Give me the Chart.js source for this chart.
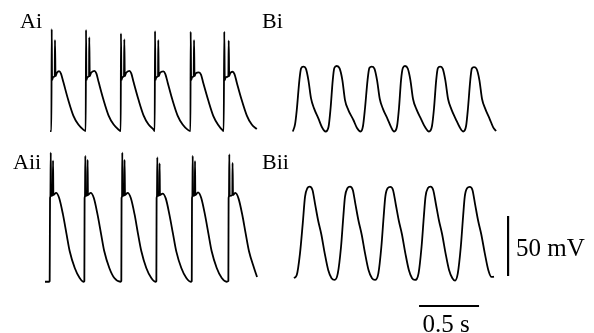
<!DOCTYPE html>
<html>
<head>
<meta charset="utf-8">
<script src="https://cdn.jsdelivr.net/npm/chart.js@4.4.1/dist/chart.umd.min.js"></script>
<style>
  html, body { margin: 0; padding: 0; background: #fff; }
  canvas { display: block; }
</style>
</head>
<body>
<canvas id="traces" width="594" height="333"></canvas>
<script>
// Membrane potential recordings, time in ms, voltage in mV
const aiTime = [42, 53, 56, 59, 68, 81, 83, 88, 98, 117, 133, 153, 194, 236, 278, 319, 339,
  342, 345, 354, 367, 369, 373, 383, 411, 428, 447, 488, 530, 572, 613, 631,
  633, 637, 646, 658, 661, 665, 675, 703, 719, 738, 780, 822, 863, 905, 914,
  917, 920, 929, 942, 944, 948, 958, 986, 1003, 1022, 1063, 1105, 1147, 1188, 1212,
  1214, 1218, 1227, 1239, 1242, 1246, 1256, 1283, 1300, 1319, 1361, 1403, 1444, 1481, 1489,
  1494, 1498, 1507, 1528, 1531, 1535, 1543, 1563, 1579, 1598, 1640, 1682, 1723, 1765];
const aiVolt = [-60, -60, 25, -17.5, -15, -14.2, 15.8, -14.2, -11.7, -10, -12.1, -19.2, -34.2, -47.1, -54.6, -58.8, -60,
  24.2, -17.5, -15, -14.2, 18.1, -14.2, -11.7, -9.8, -12, -19.2, -34.2, -47.1, -54.6, -58.8, -60,
  21.4, -17.5, -15, -14.2, 16.4, -14.2, -11.7, -9.8, -12, -19.2, -34.2, -47.1, -54.6, -58.8, -60,
  23.3, -17.5, -15, -14.2, 15.8, -14.2, -11.7, -10.3, -12.5, -19.5, -34.4, -47.1, -54.6, -58.8, -60,
  22.8, -17.5, -15, -14.2, 15.8, -14.2, -12, -11.1, -13, -20, -34.6, -47.5, -55, -59.5, -60,
  22.8, -17.5, -15, -14.2, 15.3, -14.2, -11.9, -10.6, -12.5, -19.5, -34.4, -47.1, -54.6, -58.3];

const aiiTime = [0, 31, 39, 42, 45, 48, 51, 64, 67, 70, 92, 118, 150, 178, 206, 248, 289, 319,
  328, 330, 333, 336, 339, 353, 355, 358, 380, 407, 438, 466, 494, 536, 578, 629,
  636, 638, 642, 644, 648, 661, 663, 667, 688, 715, 747, 774, 803, 844, 886, 919,
  928, 930, 933, 936, 939, 953, 955, 958, 980, 1007, 1038, 1066, 1094, 1136, 1178, 1214,
  1223, 1225, 1228, 1231, 1234, 1248, 1250, 1253, 1275, 1302, 1333, 1361, 1389, 1431, 1473, 1513,
  1528, 1530, 1533, 1536, 1539, 1561, 1563, 1567, 1586, 1613, 1644, 1672, 1700, 1742, 1767];
const aiiVolt = [-59.8, -59.8, -59.2, 10, 11.3, 47.8, 11.7, 12.5, 41.1, 12.5, 14.2, 10, -3.9, -19.2, -34.4, -48.3, -56.7, -59.8,
  -59.2, 10, 11.3, 45, 11.7, 12.5, 41.7, 12.5, 14.2, 10, -3.9, -19.2, -34.4, -48.3, -56.7, -59.8,
  -59.2, 10, 11.3, 47.8, 11.7, 12.5, 41.7, 12.5, 14.2, 10, -3.9, -19.2, -34.4, -48.3, -56.7, -59.8,
  -59.2, 10, 11.3, 43.9, 11.7, 12.5, 38.9, 12.5, 13.7, 9.5, -4.5, -19.5, -34.5, -48.3, -56.7, -59.8,
  -59.2, 10, 11.3, 45, 11.7, 12.5, 40.8, 12.5, 14.7, 10, -3.9, -19.2, -34.4, -48.3, -56.7, -59.8,
  -59.2, 10, 11.3, 46.3, 11.7, 12.5, 39.2, 12.5, 14.2, 9.5, -4, -19.5, -34.4, -48.3, -55.8];

const biTime = [23, 42, 56, 78, 92, 111, 131, 153, 175, 200, 236, 264, 296,
  321, 338, 356, 369, 389, 413, 436, 458, 486, 528, 558, 588,
  608, 625, 646, 661, 681, 703, 725, 748, 775, 813, 842, 867,
  892, 908, 925, 940, 958, 981, 1003, 1025, 1053, 1092, 1125, 1158,
  1183, 1200, 1218, 1232, 1250, 1272, 1294, 1317, 1344, 1381, 1413, 1442,
  1467, 1483, 1502, 1515, 1533, 1555, 1578, 1600, 1628, 1664, 1692, 1717];
const biVolt = [-60.4, -54.2, -42.5, -17.5, -7.8, -6.3, -7.8, -17.5, -32.8, -41.1, -49.4, -56.4, -60.4,
  -56.4, -40.8, -17.5, -7.5, -5.8, -7.8, -17.5, -34.2, -42.5, -50.8, -57.5, -60.4,
  -55.8, -40.8, -17.5, -7.5, -6.3, -7.9, -17.5, -33.3, -41.7, -50, -56.7, -60.4,
  -55.8, -40.8, -17.5, -7.5, -5.8, -7.9, -17.5, -33.3, -41.7, -50, -56.7, -60.4,
  -55.8, -40.8, -17.5, -7.5, -6.3, -7.9, -17.5, -33.3, -41.7, -50, -56.7, -60.4,
  -55.8, -40.8, -17.5, -7.9, -6.7, -8.3, -17.5, -33.3, -41.7, -50, -56.7, -60];

const biiTime = [33, 56, 83, 106, 125, 144, 164, 187, 210, 235, 260, 289, 318, 346, 371,
  398, 425, 444, 458, 478, 500, 523, 546, 571, 596, 625, 654, 683, 708,
  736, 761, 780, 794, 813, 836, 858, 882, 907, 932, 961, 990, 1017, 1040,
  1071, 1096, 1115, 1129, 1148, 1171, 1193, 1217, 1242, 1267, 1296, 1325, 1353, 1375,
  1398, 1423, 1442, 1456, 1475, 1498, 1520, 1543, 1568, 1593, 1623, 1652, 1679, 1700];
const biiVolt = [-56.7, -54.2, -36.1, -11.1, 11.1, 18.1, 19.4, 16.7, 4.2, -9.2, -20, -36.1, -50, -56.9, -58.3,
  -52.8, -30.6, -5.6, 11.1, 18.1, 19.4, 16.7, 4.2, -9.2, -20, -36.1, -50, -56.9, -58.3,
  -52.8, -30.6, -5.6, 11.1, 18.1, 19.2, 16.7, 4.2, -9.2, -20, -36.1, -50, -56.9, -58.3,
  -52.8, -30.6, -5.6, 11.1, 18.1, 19.4, 16.7, 4.2, -9.2, -20, -36.1, -50, -56.9, -58.8,
  -52.8, -30.6, -5.6, 11.1, 18.1, 19.2, 16.7, 4.2, -9.2, -20, -36.1, -50, -55.8, -55.6];

// scale bars: 50 mV and 0.5 s (B panel coordinates, bottom row)
const vBarTime = [1817, 1817];
const vBarVolt = [-55, -5];
const hBarTime = [1075, 1575];
const hBarVolt = [-80, -80];

const panelLabels = ['Ai', 'Bi', 'Aii', 'Bii'];
const scaleLabels = ['50 mV', '0.5 s'];

function toPoints(t, v) {
  return t.map((x, i) => ({ x: x, y: v[i] }));
}

function trace(t, v, xAxis, yAxis, width) {
  return {
    data: toPoints(t, v),
    xAxisID: xAxis,
    yAxisID: yAxis,
    borderColor: '#000',
    borderWidth: width || 1.8,
    pointRadius: 0,
    fill: false,
    tension: 0,
    cubicInterpolationMode: 'monotone'
  };
}

// text labels drawn straight on the canvas
const labelPlugin = {
  id: 'labels',
  afterDraw(chart) {
    const ctx = chart.ctx;
    ctx.save();
    ctx.fillStyle = '#000';
    ctx.font = '22px "Liberation Serif", "Times New Roman", serif';
    ctx.textBaseline = 'alphabetic';
    ctx.textAlign = 'left';
    ctx.fillText(panelLabels[0], 20, 28);
    ctx.fillText(panelLabels[1], 262, 28);
    ctx.fillText(panelLabels[2], 13, 169);
    ctx.fillText(panelLabels[3], 262, 169);
    ctx.font = '25px "Liberation Serif", "Times New Roman", serif';
    ctx.fillText(scaleLabels[0], 516, 256);
    ctx.textAlign = 'center';
    ctx.fillText(scaleLabels[1], 446, 332);
    ctx.restore();
  }
};

const hidden = (min, max) => ({ type: 'linear', display: false, min: min, max: max });

new Chart(document.getElementById('traces'), {
  type: 'line',
  data: {
    datasets: [
      trace(aiTime, aiVolt, 'xA', 'yTop'),
      trace(biTime, biVolt, 'xB', 'yTop'),
      trace(aiiTime, aiiVolt, 'xA', 'yBot'),
      trace(biiTime, biiVolt, 'xB', 'yBot'),
      trace(vBarTime, vBarVolt, 'xB', 'yBot', 2.2),
      trace(hBarTime, hBarVolt, 'xB', 'yBot', 2.2)
    ]
  },
  options: {
    responsive: false,
    animation: false,
    events: [],
    layout: { padding: 0 },
    plugins: {
      legend: { display: false },
      tooltip: { enabled: false }
    },
    scales: {
      xA: hidden(-375, 4575),
      xB: hidden(-2417, 2533),
      yTop: hidden(-228.3, 49.2),
      yBot: hidden(-102.5, 175)
    }
  },
  plugins: [labelPlugin]
});
</script>
</body>
</html>
